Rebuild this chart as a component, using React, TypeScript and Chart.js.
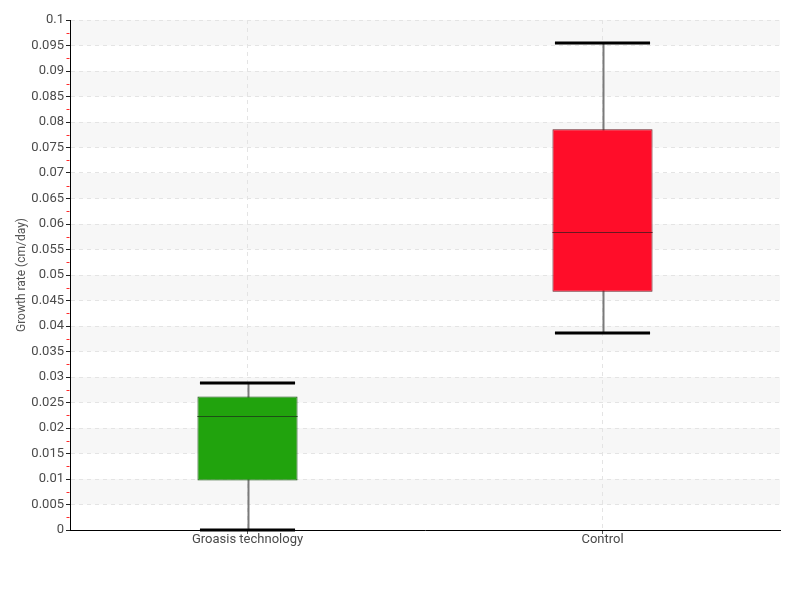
import React, { useEffect, useRef } from "react";
import { Chart, registerables } from "chart.js";

Chart.register(...registerables);

const categories = ["Groasis technology", "Control"];
const whiskerMin = [0.0, 0.0386];
const quartile1 = [0.0097, 0.0467];
const medians = [0.0223, 0.0584];
const quartile3 = [0.0262, 0.0786];
const whiskerMax = [0.0289, 0.0955];
const fillColors = ["#21a30d", "#ff0d29"];
const edgeColors = ["#1d4f16", "#6a1820"];
const yTitle = "Growth rate (cm/day)";
const FONT = "Roboto, 'Liberation Sans', sans-serif";

const bandsPlugin = {
  id: "bands",
  beforeDraw(chart: any) {
    const { ctx, chartArea, scales } = chart;
    const y = scales.y;
    ctx.save();
    ctx.fillStyle = "#f7f7f7";
    for (let v = 0.1; v > 0.0001; v -= 0.01) {
      const top = y.getPixelForValue(v);
      const bot = y.getPixelForValue(v - 0.005);
      ctx.fillRect(chartArea.left, top, chartArea.right - chartArea.left, bot - top);
    }
    ctx.restore();
  },
  afterDraw(chart: any) {
    const { ctx, chartArea, scales } = chart;
    const y = scales.y;
    ctx.save();
    ctx.strokeStyle = "#ff2a2a";
    ctx.lineWidth = 1;
    for (let i = 0; i < 20; i++) {
      const py = Math.round(y.getPixelForValue(i * 0.005 + 0.0025)) + 0.5;
      ctx.beginPath();
      ctx.moveTo(chartArea.left - 3.5, py);
      ctx.lineTo(chartArea.left - 0.5, py);
      ctx.stroke();
    }
    ctx.restore();
  },
};

const boxPlugin = {
  id: "boxes",
  beforeDatasetsDraw(chart: any) {
    const { ctx, scales } = chart;
    const y = scales.y;
    const meta = chart.getDatasetMeta(0);
    ctx.save();
    meta.data.forEach((bar: any, i: number) => {
      const cx = Math.round(bar.x) + 0.5;
      ctx.strokeStyle = "#7a7a7a";
      ctx.lineWidth = 2;
      ctx.beginPath();
      ctx.moveTo(cx, y.getPixelForValue(whiskerMin[i]));
      ctx.lineTo(cx, y.getPixelForValue(whiskerMax[i]));
      ctx.stroke();
    });
    ctx.restore();
  },
  afterDatasetsDraw(chart: any) {
    const { ctx, scales } = chart;
    const y = scales.y;
    const meta = chart.getDatasetMeta(0);
    ctx.save();
    meta.data.forEach((bar: any, i: number) => {
      const half = bar.width / 2;
      const capHalf = half - 2.5;
      ctx.strokeStyle = "#000";
      ctx.lineWidth = 3;
      [whiskerMin[i], whiskerMax[i]].forEach((v) => {
        const py = Math.round(y.getPixelForValue(v));
        ctx.beginPath();
        ctx.moveTo(bar.x - capHalf, py);
        ctx.lineTo(bar.x + capHalf, py);
        ctx.stroke();
      });
      ctx.strokeStyle = edgeColors[i];
      ctx.lineWidth = 1;
      const my = Math.round(y.getPixelForValue(medians[i])) + 0.5;
      ctx.beginPath();
      ctx.moveTo(bar.x - half, my);
      ctx.lineTo(bar.x + half, my);
      ctx.stroke();
    });
    ctx.restore();
  },
};

export default function App() {
  const ref = useRef<HTMLCanvasElement>(null);
  useEffect(() => {
    document.body.style.margin = "0";
    const chart = new Chart(ref.current!, {
      type: "bar",
      data: {
        labels: categories,
        datasets: [
          {
            data: categories.map((_, i) => [quartile1[i], quartile3[i]]) as any,
            backgroundColor: fillColors,
            borderColor: edgeColors,
            borderWidth: 1,
            borderSkipped: false,
            categoryPercentage: 1,
            barPercentage: 0.282,
          },
        ],
      },
      options: {
        responsive: false,
        animation: false,
        layout: { padding: { top: 20, right: 20, left: 0, bottom: 0 } },
        plugins: {
          legend: { display: false },
          tooltip: { enabled: false },
        },
        scales: {
          x: {
            afterFit: (s: any) => {
              s.height = 70;
            },
            grid: {
              offset: false,
              color: "#e4e4e4",
              tickColor: "#555",
              tickLength: 4,
              tickBorderDash: [],
            } as any,
            border: { display: true, color: "#000", width: 1, dash: [4, 4] },
            ticks: {
              color: "#4a4a4a",
              padding: -2,
              font: { family: FONT, size: 13 },
            },
          },
          y: {
            min: 0,
            max: 0.1,
            afterFit: (s: any) => {
              s.width = 70;
            },
            grid: {
              color: "#e4e4e4",
              tickColor: "#222",
              tickLength: 4,
              tickBorderDash: [],
            } as any,
            border: { display: true, color: "#000", width: 1, dash: [4, 4] },
            ticks: {
              stepSize: 0.005,
              color: "#4a4a4a",
              padding: 2,
              font: { family: FONT, size: 13 },
              callback: (v: any) => String(Number(Number(v).toFixed(3))),
            },
            title: {
              display: true,
              text: yTitle,
              color: "#555",
              padding: { top: 15, bottom: 0 },
              font: { family: FONT, size: 12 },
            },
          },
        },
      },
      plugins: [bandsPlugin, boxPlugin],
    });
    return () => chart.destroy();
  }, []);
  return (
    <div style={{ width: 800, height: 600 }}>
      <canvas ref={ref} width={800} height={600} />
    </div>
  );
}
